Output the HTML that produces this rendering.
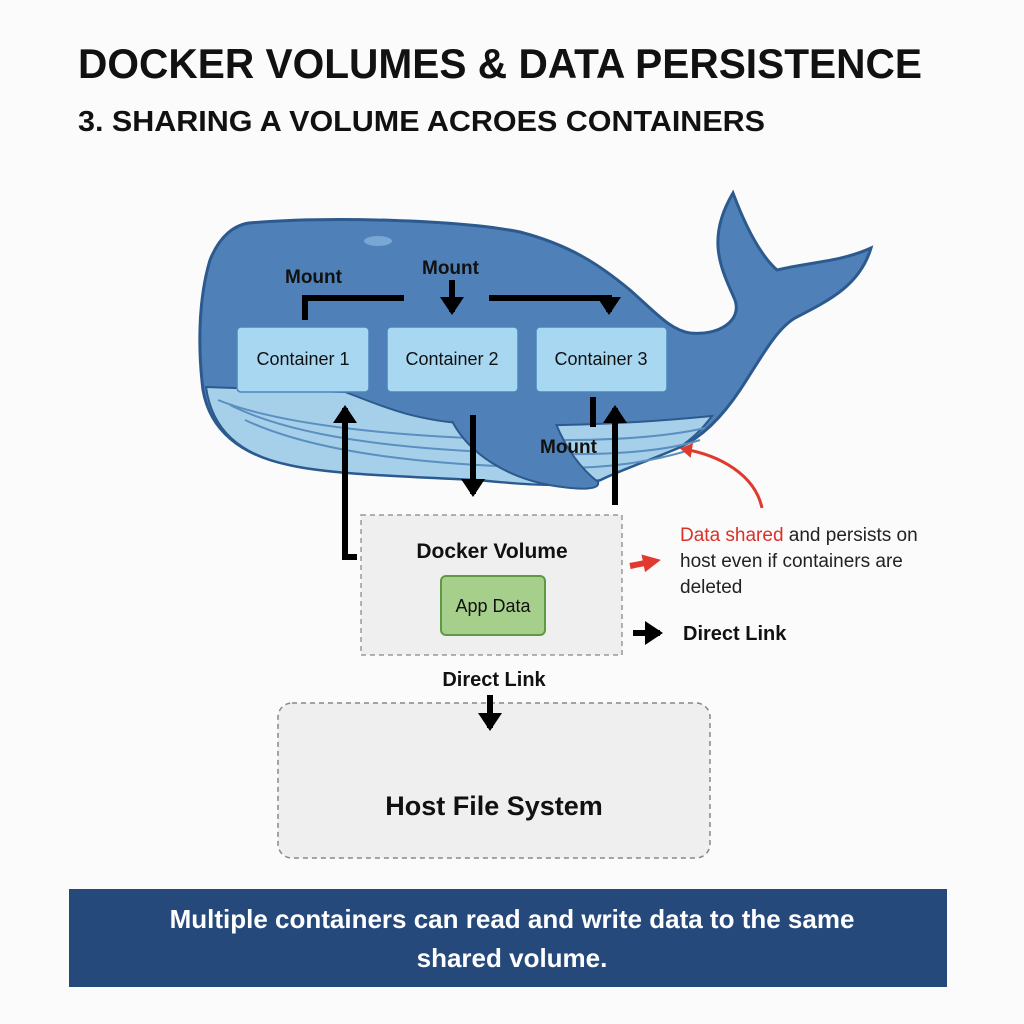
<!DOCTYPE html>
<html><head><meta charset="utf-8"><style>
html,body{margin:0;padding:0;background:#fff;}
svg{display:block;}
text{font-family:"Liberation Sans",Arial,sans-serif;}
</style></head><body>
<svg width="1024" height="1024" viewBox="0 0 1024 1024" xmlns="http://www.w3.org/2000/svg">
<defs>
<marker id="ah" markerWidth="4" markerHeight="4" refX="2.5" refY="2" orient="auto" markerUnits="strokeWidth"><path d="M0,0 L3,2 L0,4 z" fill="#000"/></marker>
<marker id="rh" markerWidth="5" markerHeight="5" refX="3" refY="2.5" orient="auto" markerUnits="strokeWidth"><path d="M0,0 L4,2.5 L0,5 z" fill="#e03a30"/></marker>
<marker id="rh2" markerWidth="3" markerHeight="3" refX="2" refY="1.5" orient="auto" markerUnits="strokeWidth"><path d="M0,0 L3,1.5 L0,3 z" fill="#e03a30"/></marker>
</defs>
<rect width="1024" height="1024" fill="#fbfbfb"/>
<text x="78" y="78" font-size="42" font-weight="bold" textLength="844" lengthAdjust="spacingAndGlyphs" fill="#111">DOCKER VOLUMES &amp; DATA PERSISTENCE</text>
<text x="78" y="131" font-size="29" font-weight="bold" textLength="687" lengthAdjust="spacingAndGlyphs" fill="#111">3. SHARING A VOLUME ACROES CONTAINERS</text>

<!-- whale body -->
<path d="M249,223 C330,216 460,220 520,232 C570,245 600,265 630,290 C655,312 670,330 690,333 C720,336 742,320 735,300 C722,270 705,240 733,193 C745,225 760,255 777,270 C810,262 840,262 871,248 C860,285 830,300 795,318 C775,330 760,360 740,390 C720,420 700,438 680,447 C650,460 620,470 600,480 C580,488 520,484 480,480 C400,476 330,474 290,465 C240,455 210,430 203,390 C198,350 198,300 210,260 C220,235 235,225 249,223 Z" fill="#4f80b8" stroke="#2c5a8e" stroke-width="3"/>
<!-- belly -->
<path d="M206,387 L345,392 C380,405 410,420 470,424 C560,428 650,422 712,416 C700,432 690,440 680,447 C650,460 620,470 600,480 C560,488 520,484 480,480 C400,476 330,474 290,465 C240,455 212,430 206,387 Z" fill="#a6d0ea" stroke="#2c5a8e" stroke-width="2"/>
<path d="M230,405 C300,440 420,452 560,454 C620,455 670,450 700,440" fill="none" stroke="#5b8fc0" stroke-width="2"/>
<path d="M218,400 C280,425 400,438 540,440 C620,441 670,436 705,428" fill="none" stroke="#5b8fc0" stroke-width="2"/>
<path d="M245,420 C320,455 440,466 560,468 C610,468 650,462 690,450" fill="none" stroke="#5b8fc0" stroke-width="2"/>
<!-- flipper -->
<path d="M452,421 C468,452 505,478 555,486 C582,490 600,490 598,482 C580,468 566,448 556,424 Z" fill="#4f80b8"/>
<path d="M452,421 C468,452 505,478 555,486 C582,490 600,490 598,482 C580,468 566,448 556,424" fill="none" stroke="#2c5a8e" stroke-width="2"/>
<ellipse cx="378" cy="241" rx="14" ry="5" fill="#7aa6d4"/>

<!-- containers -->
<g stroke="#4b86bb" stroke-width="1.5" fill="#a8d7f2">
<rect x="237" y="327" width="132" height="65" rx="4"/>
<rect x="387" y="327" width="131" height="65" rx="4"/>
<rect x="536" y="327" width="131" height="65" rx="4"/>
</g>
<g font-size="18" fill="#111" text-anchor="middle">
<text x="303" y="365">Container 1</text>
<text x="452" y="365">Container 2</text>
<text x="601" y="365">Container 3</text>
</g>

<!-- volume -->
<rect x="361" y="515" width="261" height="140" fill="#efefef" stroke="#999" stroke-width="1.5" stroke-dasharray="5,4"/>
<text x="492" y="558" font-size="21" font-weight="bold" text-anchor="middle" fill="#111">Docker Volume</text>
<rect x="441" y="576" width="104" height="59" rx="5" fill="#a6cf8c" stroke="#5e9a44" stroke-width="2"/>
<text x="493" y="612" font-size="18" text-anchor="middle" fill="#111">App Data</text>
<text x="494" y="686" font-size="20" font-weight="bold" text-anchor="middle" fill="#111">Direct Link</text>

<!-- host -->
<rect x="278" y="703" width="432" height="155" rx="14" fill="#efefef" stroke="#888" stroke-width="1.5" stroke-dasharray="5,4"/>
<text x="494" y="815" font-size="27" font-weight="bold" text-anchor="middle" fill="#111">Host File System</text>

<!-- arrows -->
<g stroke="#000" stroke-width="6" fill="none">
<path d="M305,320 L305,298 L404,298"/>
<path d="M489,298 L609,298 L609,312" marker-end="url(#ah)"/>
<path d="M452,280 L452,312" marker-end="url(#ah)"/>
<path d="M593,397 L593,427"/>
<path d="M615,505 L615,408" marker-end="url(#ah)"/>
<path d="M357,557 L345,557 L345,408" marker-end="url(#ah)"/>
<path d="M473,415 L473,494" marker-end="url(#ah)"/>
<path d="M490,695 L490,728" marker-end="url(#ah)"/>
<path d="M633,633 L660,633" marker-end="url(#ah)"/>
</g>
<g font-size="19" font-weight="bold" fill="#111">
<text x="285" y="283">Mount</text>
<text x="422" y="274">Mount</text>
<text x="540" y="453">Mount</text>
</g>

<!-- callout -->
<path d="M762,508 C755,475 720,455 683,449" fill="none" stroke="#e03a30" stroke-width="3" marker-end="url(#rh)"/>
<path d="M630,566 L655,561" stroke="#e03a30" stroke-width="6" marker-end="url(#rh2)"/>
<g font-size="19" fill="#222">
<text x="680" y="541"><tspan fill="#d8322a">Data shared</tspan> and persists on</text>
<text x="680" y="567">host even if containers are</text>
<text x="680" y="593">deleted</text>
</g>
<text x="683" y="640" font-size="20" font-weight="bold" fill="#111">Direct Link</text>

<!-- footer -->
<rect x="69" y="889" width="878" height="98" fill="#25497a"/>
<g font-size="26" font-weight="bold" fill="#fff" text-anchor="middle">
<text x="512" y="928">Multiple containers can read and write data to the same</text>
<text x="512" y="967">shared volume.</text>
</g>
</svg>
</body></html>
